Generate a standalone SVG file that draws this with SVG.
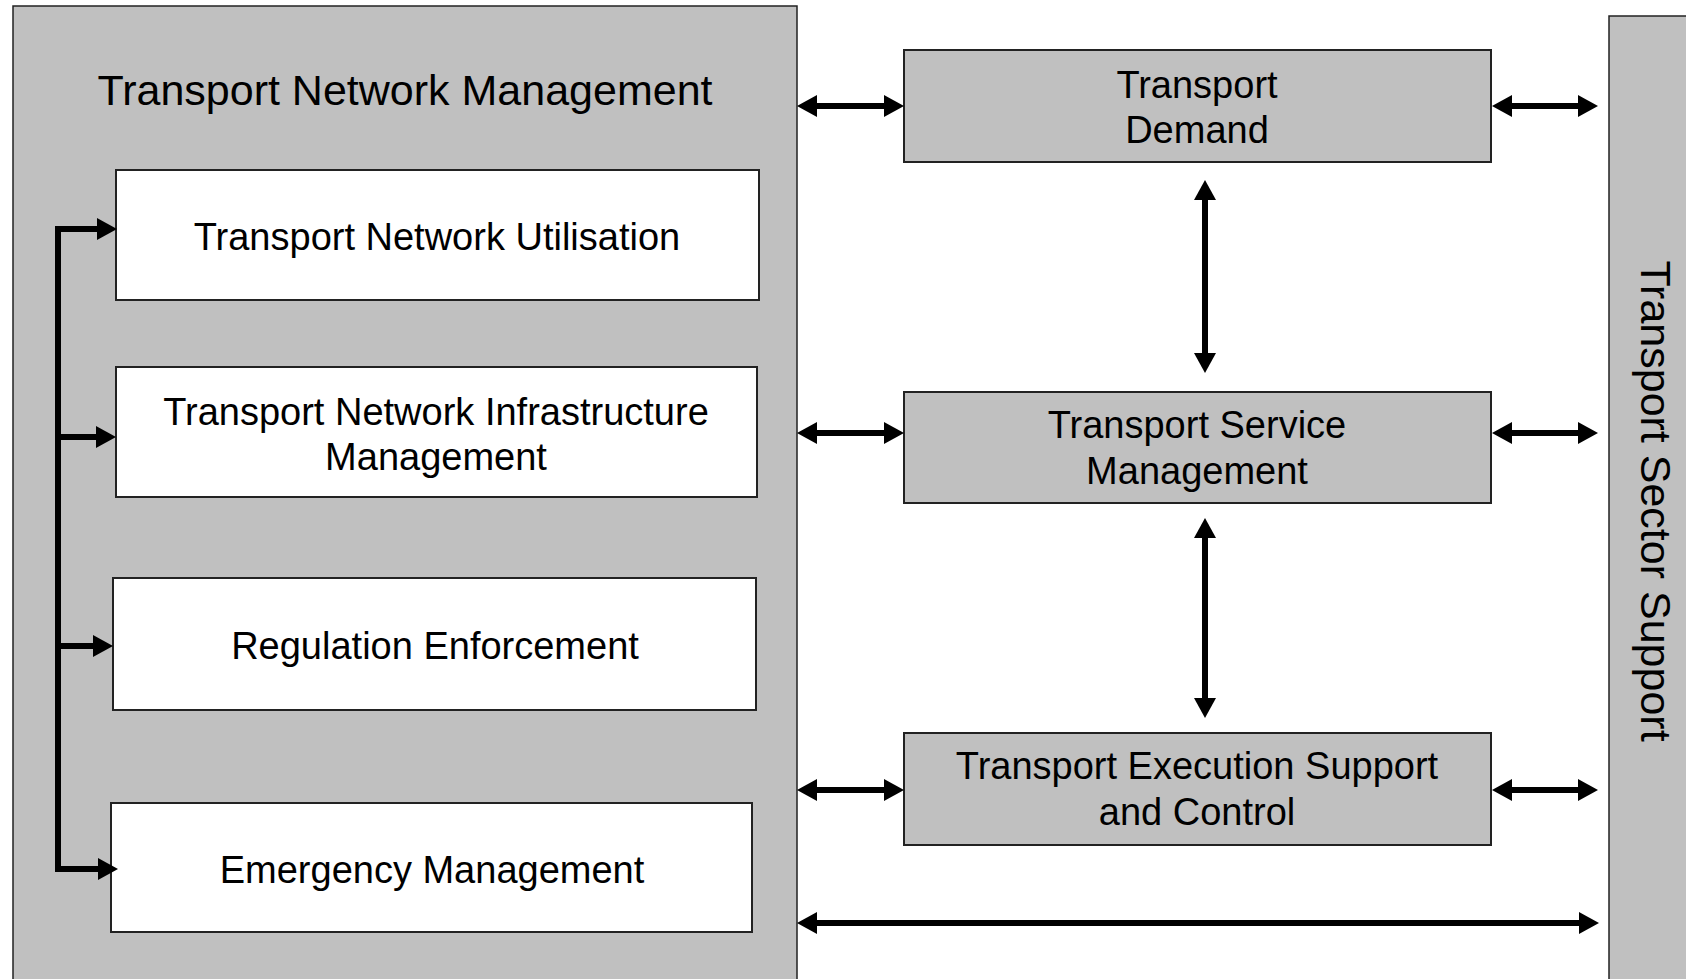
<svg xmlns="http://www.w3.org/2000/svg" width="1686" height="979" viewBox="0 0 1686 979">
  <style>
    .panel { fill: #c0c0c0; stroke: #222; stroke-width: 1.5; }
    .box-w { fill: #ffffff; stroke: #222; stroke-width: 2; }
    .box-g { fill: #c0c0c0; stroke: #222; stroke-width: 2; }
    .lbl { font-family: "Liberation Sans", Arial, sans-serif; font-size: 38px; fill: #000; text-anchor: middle; }
    .big { font-family: "Liberation Sans", Arial, sans-serif; font-size: 43px; fill: #000; text-anchor: middle; }
    .link { fill: none; stroke: #000; stroke-width: 6; stroke-linejoin: miter; }
  </style>
  <defs>
    <marker id="head" markerUnits="userSpaceOnUse" markerWidth="24" markerHeight="24" refX="2" refY="11" viewBox="0 0 24 22" orient="auto-start-reverse">
      <path d="M0,0 L20,11 L0,22 Z" fill="#000"/>
    </marker>
  </defs>

  <rect width="1686" height="979" fill="#ffffff"/>

  <!-- Transport Network Management panel -->
  <g id="transport-network-management">
    <rect class="panel" x="13" y="6" width="784" height="1000"/>
    <text class="big" x="405" y="105">Transport Network Management</text>
  </g>

  <!-- Transport Sector Support panel -->
  <g id="transport-sector-support">
    <rect class="panel" x="1609" y="16" width="120" height="1000"/>
    <text class="big" transform="translate(1641,501) rotate(90)">Transport Sector Support</text>
  </g>

  <g id="transport-network-utilisation">
    <rect class="box-w" x="116" y="170" width="643" height="130"/>
    <text class="lbl" x="437" y="250">Transport Network Utilisation</text>
  </g>

  <g id="transport-network-infrastructure-management">
    <rect class="box-w" x="116" y="367" width="641" height="130"/>
    <text class="lbl" x="436" y="425">Transport Network Infrastructure</text>
    <text class="lbl" x="436" y="470">Management</text>
  </g>

  <g id="regulation-enforcement">
    <rect class="box-w" x="113" y="578" width="643" height="132"/>
    <text class="lbl" x="435" y="659">Regulation Enforcement</text>
  </g>

  <g id="emergency-management">
    <rect class="box-w" x="111" y="803" width="641" height="129"/>
    <text class="lbl" x="432" y="883">Emergency Management</text>
  </g>

  <g id="transport-demand">
    <rect class="box-g" x="904" y="50" width="587" height="112"/>
    <text class="lbl" x="1197" y="98">Transport</text>
    <text class="lbl" x="1197" y="143">Demand</text>
  </g>

  <g id="transport-service-management">
    <rect class="box-g" x="904" y="392" width="587" height="111"/>
    <text class="lbl" x="1197" y="438">Transport Service</text>
    <text class="lbl" x="1197" y="484">Management</text>
  </g>

  <g id="transport-execution-support">
    <rect class="box-g" x="904" y="733" width="587" height="112"/>
    <text class="lbl" x="1197" y="779">Transport Execution Support</text>
    <text class="lbl" x="1197" y="825">and Control</text>
  </g>

  <!-- Connectors -->
  <g id="connectors">
    <!-- internal bus feeding the four sub-functions -->
    <path class="link" d="M99,229 H58 V869 H100" marker-start="url(#head)" marker-end="url(#head)"/>
    <path class="link" d="M58,437 H98" marker-end="url(#head)"/>
    <path class="link" d="M58,646 H95" marker-end="url(#head)"/>

    <!-- panel to central boxes -->
    <path class="link" d="M815,106 H886" marker-start="url(#head)" marker-end="url(#head)"/>
    <path class="link" d="M815,433 H886" marker-start="url(#head)" marker-end="url(#head)"/>
    <path class="link" d="M815,790 H886" marker-start="url(#head)" marker-end="url(#head)"/>

    <!-- central boxes to sector support -->
    <path class="link" d="M1510,106 H1580" marker-start="url(#head)" marker-end="url(#head)"/>
    <path class="link" d="M1510,433 H1580" marker-start="url(#head)" marker-end="url(#head)"/>
    <path class="link" d="M1510,790 H1580" marker-start="url(#head)" marker-end="url(#head)"/>

    <!-- vertical links between central boxes -->
    <path class="link" d="M1205,198 V355" marker-start="url(#head)" marker-end="url(#head)"/>
    <path class="link" d="M1205,536 V700" marker-start="url(#head)" marker-end="url(#head)"/>

    <!-- direct link between the two panels -->
    <path class="link" d="M815,923 H1581" marker-start="url(#head)" marker-end="url(#head)"/>
  </g>
</svg>
